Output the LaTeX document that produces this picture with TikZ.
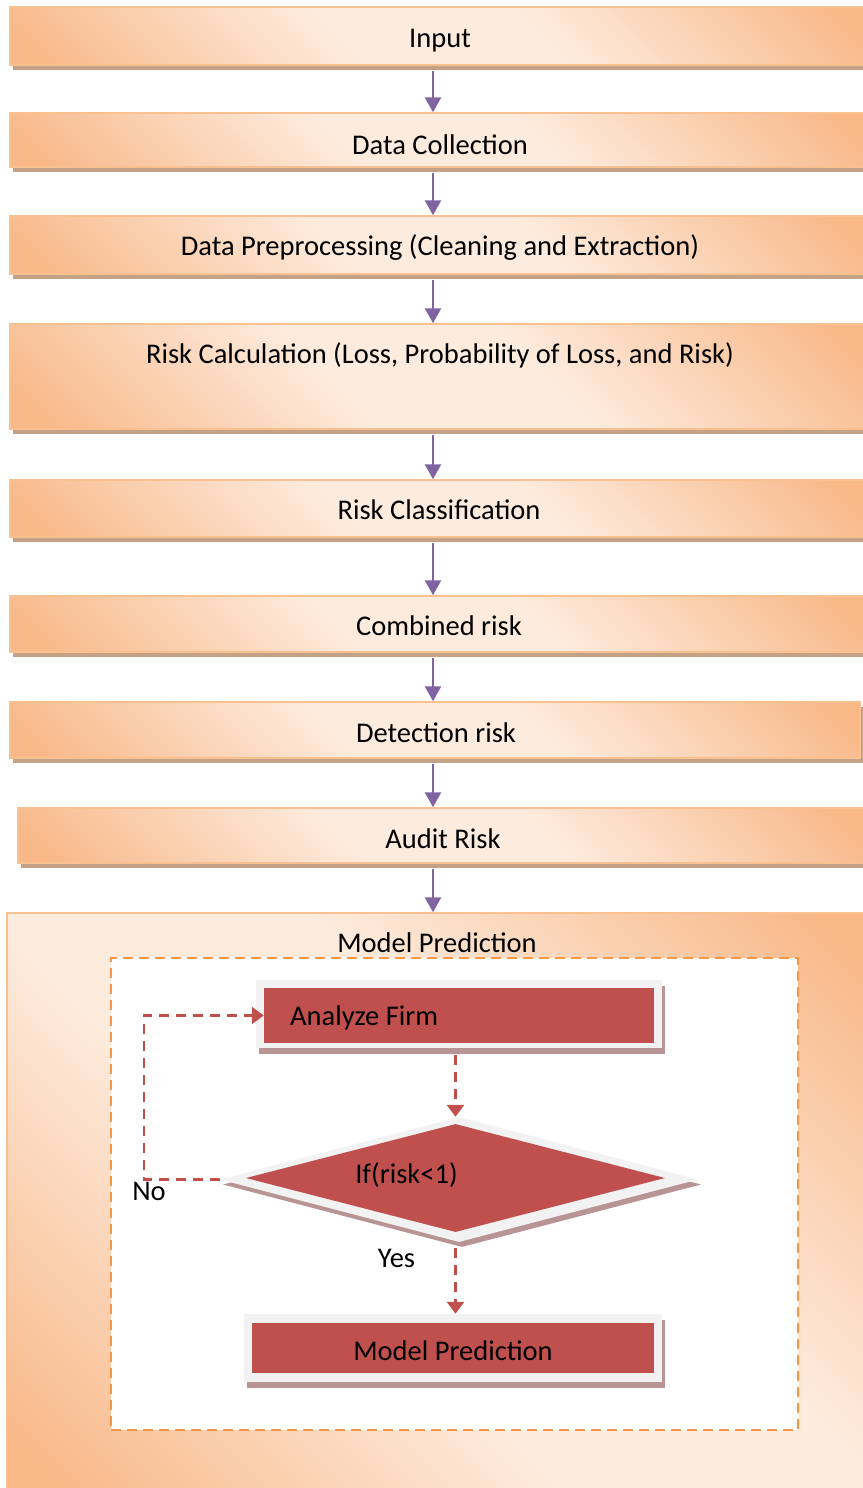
\documentclass[tikz,border=0pt]{standalone}
\usepackage{fontspec}
\setmainfont{Carlito}
\usetikzlibrary{arrows.meta,shapes.geometric,shadows}
\definecolor{pdark}{HTML}{F8B888}
\definecolor{plight}{HTML}{FDEBDD}
\definecolor{pborder}{HTML}{F9C090}
\definecolor{pshadow}{HTML}{C4A287}
\definecolor{arrowpurple}{HTML}{8064A2}
\definecolor{boxred}{HTML}{C0504D}
\definecolor{dashorange}{HTML}{F79646}
\definecolor{framegrey}{HTML}{F2F2F2}
\definecolor{redshadow}{HTML}{B89494}
\pgfdeclarehorizontalshading{peach}{100bp}{color(0bp)=(pdark); color(17bp)=(pdark); color(42bp)=(plight); color(58bp)=(plight); color(83bp)=(pdark); color(100bp)=(pdark)}
\tikzset{
  pbox/.style={draw=pborder, line width=1.5pt, shading=peach, shading angle=45, inner sep=0pt,
    general shadow={fill=pshadow, shadow xshift=3pt, shadow yshift=-5pt}},
  lbl/.style={font=\fontsize{28.5}{34}\selectfont, inner sep=0pt, anchor=base},
  parrow/.style={draw=arrowpurple, line width=2.8pt, -{Triangle[length=15pt,width=16pt]}},
  rarrow/.style={draw=boxred, line width=2.6pt, dash pattern=on 10pt off 7pt, -{Triangle[length=12pt,width=17pt]}},
  dbox/.style={draw=dashorange, line width=2.6pt, dash pattern=on 10pt off 6pt, fill=white, inner sep=0pt},
  gframe/.style={fill=framegrey, inner sep=0pt, general shadow={fill=redshadow, shadow xshift=3pt, shadow yshift=-6pt}},
  redbox/.style={fill=boxred, inner sep=0pt},
}
\begin{document}
\begin{tikzpicture}[x=1pt,y=-1pt]
\useasboundingbox (0,0) rectangle (862,1488);
\coordinate (ax) at (433,0);
\coordinate (rx) at (455.5,0);
\coordinate (lx) at (144,0);
% top chain of boxes
\node[pbox, minimum width=858pt, minimum height=58pt] (input) at (439,36) {};
\node[pbox, minimum width=858pt, minimum height=54pt] (dc) at (439,140) {};
\node[pbox, minimum width=858pt, minimum height=58pt] (pre) at (439,245) {};
\node[pbox, minimum width=858pt, minimum height=105pt] (calc) at (439,376.5) {};
\node[pbox, minimum width=858pt, minimum height=57pt] (cls) at (439,508.5) {};
\node[pbox, minimum width=858pt, minimum height=56pt] (comb) at (439,624) {};
\node[pbox, minimum width=850pt, minimum height=56pt] (det) at (435,730) {};
\node[pbox, minimum width=850pt, minimum height=55pt] (aud) at (443,835.5) {};
\node[pbox, minimum width=861pt, minimum height=577pt] (outer) at (437.5,1201.5) {};
% labels
\node[lbl] (inputt) at (440,48) {Input};
\node[lbl] (dct) at (440,154) {Data Collection};
\node[lbl] (pret) at (440,255) {Data Preprocessing (Cleaning and Extraction)};
\node[lbl] (calct) at (440,363) {Risk Calculation (Loss, Probability of Loss, and Risk)};
\node[lbl] (clst) at (439,519) {Risk Classification};
\node[lbl] (combt) at (439,635) {Combined risk};
\node[lbl] (dett) at (436,742) {Detection risk};
\node[lbl] (audt) at (443,848) {Audit Risk};
\node[lbl] (outert) at (437,952) {Model Prediction};
% purple arrows
\draw[parrow, shorten <=5pt] (input.south -| ax) -- (dc.north -| ax);
\draw[parrow, shorten <=5pt] (dc.south -| ax) -- (pre.north -| ax);
\draw[parrow, shorten <=5pt] (pre.south -| ax) -- (calc.north -| ax);
\draw[parrow, shorten <=5pt] (calc.south -| ax) -- (cls.north -| ax);
\draw[parrow, shorten <=5pt] (cls.south -| ax) -- (comb.north -| ax);
\draw[parrow, shorten <=5pt] (comb.south -| ax) -- (det.north -| ax);
\draw[parrow, shorten <=5pt] (det.south -| ax) -- (aud.north -| ax);
\draw[parrow, shorten <=5pt] (aud.south -| ax) -- (outer.north -| ax);
% inner dashed region
\node[dbox, minimum width=687pt, minimum height=472pt] (inner) at (454.5,1194) {};
% Analyze Firm
\node[gframe, minimum width=406pt, minimum height=68pt] (afframe) at (459,1014) {};
\node[redbox, minimum width=390pt, minimum height=55pt] (af) at (459,1015.5) {};
\node[lbl, anchor=base west] (aft) at (290,1025) {Analyze Firm};
% decision diamond
\node[diamond, fill=framegrey, inner sep=0pt, minimum width=478pt, minimum height=125pt,
  general shadow={fill=redshadow, shadow xshift=3pt, shadow yshift=-5pt}] (diaout) at (459,1179.5) {};
\node[diamond, fill=boxred, inner sep=0pt, minimum width=419pt, minimum height=108pt] (dia) at (455.5,1178) {};
\node[lbl] (diat) at (406.5,1183) {If(risk<1)};
% Model Prediction result
\node[gframe, minimum width=418pt, minimum height=68pt] (mpframe) at (453,1348) {};
\node[redbox, minimum width=402pt, minimum height=50pt] (mp) at (453,1348) {};
\node[lbl] (mpt) at (453,1360) {Model Prediction};
% red dashed connectors
\draw[rarrow, shorten <=7pt] (afframe.south -| rx) -- (diaout.north -| rx);
\draw[rarrow, shorten <=6pt] (diaout.south -| rx) -- (mpframe.north -| rx);
\draw[rarrow] (diaout.west) -- (diaout.west -| lx) |- (af.west);
\node[lbl] (no) at (149,1200) {No};
\node[lbl] (yes) at (396.5,1267) {Yes};
\end{tikzpicture}
\end{document}
